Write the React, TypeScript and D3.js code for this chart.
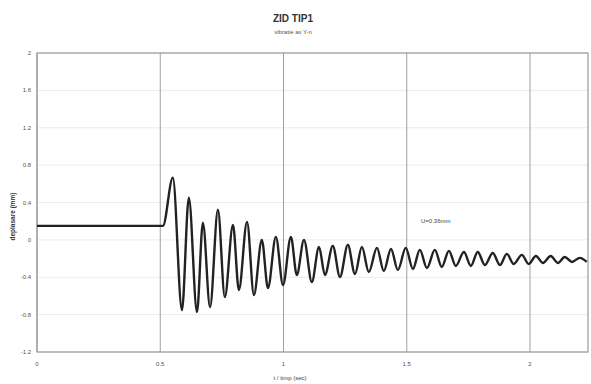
import React from "react";
import * as d3 from "d3";

const title = "ZID TIP1";
const subtitle = "vibratie ax Y-n";
const xTitle = "t / timp (sec)";
const yTitle = "deplasare (mm)";
const note = "U=0.36mm";

const xTicks = [0, 0.5, 1, 1.5, 2];
const xTickLabels = ["0", "0.5", "1", "1.5", "2"];
const yTicks = [2, 1.6, 1.2, 0.8, 0.4, 0, -0.4, -0.8, -1.2];
const yTickLabels = ["2", "1.6", "1.2", "0.8", "0.4", "0", "-0.4", "-0.8", "-1.2"];

// extremes of the recorded signal (time s, displacement mm)
const times = [
  0, 0.511, 0.551, 0.588, 0.616, 0.649, 0.673, 0.702, 0.734, 0.762, 0.795, 0.819,
  0.852, 0.88, 0.912, 0.937, 0.969, 0.998, 1.03, 1.054, 1.083, 1.115, 1.144, 1.168,
  1.2, 1.229, 1.261, 1.29, 1.318, 1.346, 1.379, 1.407, 1.436, 1.464, 1.496, 1.525,
  1.553, 1.582, 1.614, 1.642, 1.671, 1.699, 1.732, 1.76, 1.788, 1.817, 1.849, 1.878,
  1.906, 1.934, 1.967, 1.995, 2.024, 2.052, 2.084, 2.113, 2.141, 2.17, 2.202, 2.23,
];
const values = [
  0.15, 0.15, 0.666, -0.752, 0.451, -0.773, 0.183, -0.72, 0.322, -0.612, 0.161, -0.537,
  0.193, -0.591, 0.0, -0.516, 0.032, -0.483, 0.032, -0.376, 0.0, -0.451, -0.075, -0.376,
  -0.064, -0.397, -0.054, -0.365, -0.075, -0.344, -0.086, -0.333, -0.097, -0.322, -0.086, -0.311,
  -0.107, -0.301, -0.107, -0.29, -0.118, -0.279, -0.129, -0.279, -0.129, -0.269, -0.14, -0.269,
  -0.15, -0.258, -0.161, -0.258, -0.172, -0.247, -0.172, -0.247, -0.183, -0.236, -0.193, -0.236,
];

const W = 591;
const H = 384;
const left = 37, right = 588, top = 53, bottom = 352;

export default function App() {
  const x = d3.scaleLinear().domain([0, 2]).range([left, 530]);
  const y = d3.scaleLinear().domain([-1.2, 2]).range([bottom, top]);
  const pts = times.map((t, i) => [t, values[i]] as [number, number]);
  const line = d3
    .line<[number, number]>()
    .x((d) => x(d[0]))
    .y((d) => y(d[1]))
    .curve(d3.curveMonotoneX);
  const font = "Liberation Sans, Arial, sans-serif";
  return (
    <svg
      width={W}
      height={H}
      style={{ position: "absolute", left: 0, top: 0, background: "#fff" }}
      fontFamily={font}
    >
      <rect x={0} y={0} width={W} height={H} fill="#fff" />
      <text x={293} y={22} textAnchor="middle" fontSize={10} fontWeight="bold" fill="#333">
        {title}
      </text>
      <text x={293} y={34} textAnchor="middle" fontSize={6} fill="#555">
        {subtitle}
      </text>
      {yTicks.map((v) => (
        <line key={"hy" + v} x1={left} x2={right} y1={y(v)} y2={y(v)} stroke="#ececec" strokeWidth={1} />
      ))}
      {xTicks.map((v) => (
        <line key={"gx" + v} x1={x(v)} x2={x(v)} y1={top} y2={bottom} stroke="#a0a0a0" strokeWidth={1} />
      ))}
      <rect x={left} y={top} width={right - left} height={bottom - top} fill="none" stroke="#999" strokeWidth={1.2} />
      {yTicks.map((v, i) => (
        <text key={"ty" + v} x={31} y={y(v) + 2} textAnchor="end" fontSize={6} fill="#555">
          {yTickLabels[i]}
        </text>
      ))}
      {xTicks.map((v, i) => (
        <text key={"tx" + v} x={x(v)} y={366} textAnchor="middle" fontSize={6} fill="#555">
          {xTickLabels[i]}
        </text>
      ))}
      <text x={290} y={380} textAnchor="middle" fontSize={6} fill="#444">
        {xTitle}
      </text>
      <text
        transform={`translate(15,${y(0.25)}) rotate(-90)`}
        textAnchor="middle"
        fontSize={6.5}
        fill="#333"
        fontWeight="bold"
      >
        {yTitle}
      </text>
      <text x={421} y={223} fontSize={6} fill="#444">
        {note}
      </text>
      <path d={line(pts) || ""} fill="none" stroke="#222" strokeWidth={2.4} strokeLinejoin="round" />
    </svg>
  );
}
